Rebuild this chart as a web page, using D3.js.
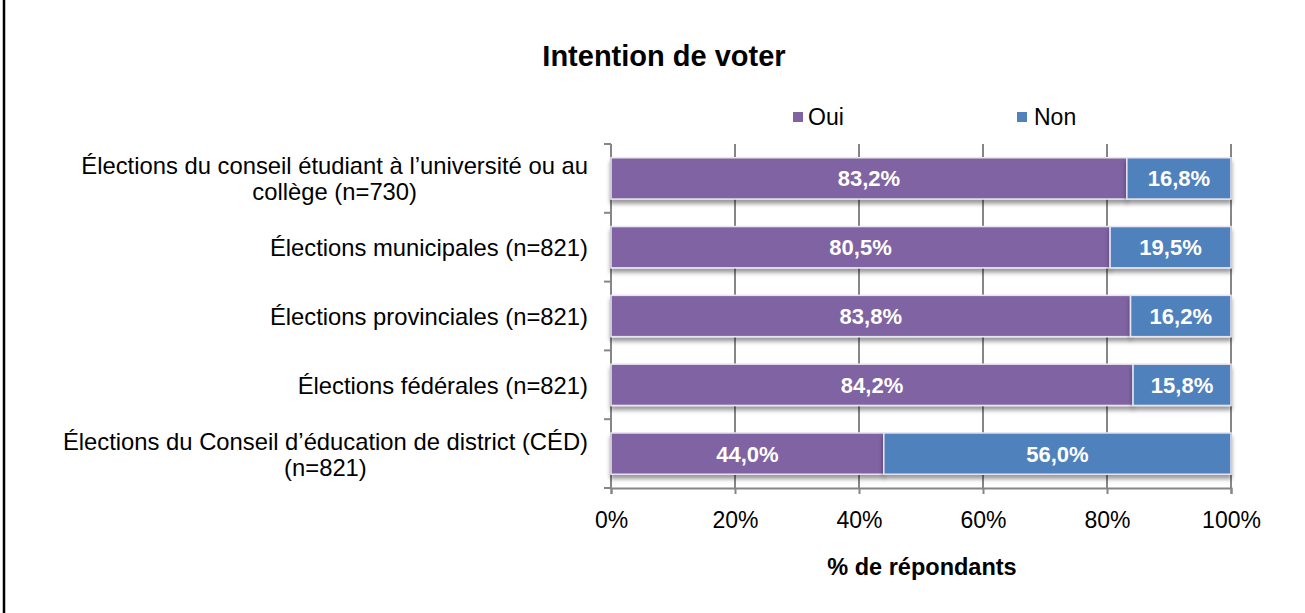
<!DOCTYPE html>
<html>
<head>
<meta charset="utf-8">
<script src="https://cdn.jsdelivr.net/npm/d3@7"></script>
<style>
  body { margin: 0; background: #fff; }
  svg { display: block; font-family: "Liberation Sans", Arial, sans-serif; }
</style>
</head>
<body>
<div id="chart"></div>
<script>
// data
var categories = [
    ["Élections du conseil étudiant à l’université ou au", "collège (n=730)"],
    ["Élections municipales (n=821)"],
    ["Élections provinciales (n=821)"],
    ["Élections fédérales (n=821)"],
    ["Élections du Conseil d’éducation de district (CÉD)", "(n=821)"]
];
var oui = [83.2, 80.5, 83.8, 84.2, 44.0];
var non = [16.8, 19.5, 16.2, 15.8, 56.0];
var seriesNames = ["Oui", "Non"];
var tickValues = [0, 20, 40, 60, 80, 100];

var colors = ["#8064A2", "#4F81BD"];
var W = 1305, H = 613;
var plotLeft = 611, plotRight = 1231, plotTop = 144, plotBottom = 488;

var svg = d3.select("#chart").append("svg")
    .attr("width", W)
    .attr("height", H);

// shadow under the bars
var defs = svg.append("defs");
var f = defs.append("filter").attr("id", "shadow")
    .attr("x", "-5%").attr("y", "-20%").attr("width", "110%").attr("height", "160%");
f.append("feDropShadow")
    .attr("dx", 0).attr("dy", 4)
    .attr("stdDeviation", 2)
    .attr("flood-color", "#000")
    .attr("flood-opacity", 0.4);

// left border of the frame
svg.append("line")
    .attr("x1", 4).attr("x2", 4)
    .attr("y1", 0).attr("y2", H)
    .attr("stroke", "#000")
    .attr("stroke-width", 2.5);

var x = d3.scaleLinear().domain([0, 100]).range([plotLeft, plotRight]);
var idx = d3.range(categories.length);
var y = d3.scaleBand().domain(idx).range([plotTop, plotBottom])
    .paddingInner(0.4).paddingOuter(0.2);

// title
svg.append("text")
    .attr("x", 664).attr("y", 66)
    .attr("text-anchor", "middle")
    .style("font-size", "29px")
    .style("font-weight", "bold")
    .text("Intention de voter");

// gridlines
svg.append("g")
    .selectAll("line")
    .data(tickValues.slice(1))
    .enter().append("line")
    .attr("x1", d => x(d)).attr("x2", d => x(d))
    .attr("y1", plotTop).attr("y2", plotBottom)
    .attr("stroke", "#868686")
    .attr("stroke-width", 2);

// x axis
var xAxis = svg.append("g")
    .attr("transform", "translate(0," + plotBottom + ")")
    .call(d3.axisBottom(x).tickValues(tickValues).tickSize(6).tickPadding(18)
        .tickFormat(d => d + "%"));
xAxis.select(".domain").attr("stroke", "#868686").attr("stroke-width", 2);
xAxis.selectAll(".tick line").attr("stroke", "#868686").attr("stroke-width", 2);
xAxis.selectAll(".tick text")
    .attr("fill", "#000")
    .style("font-size", "23px")
    .style("font-family", "Liberation Sans, Arial, sans-serif");

// y axis line with category boundary ticks
var bounds = idx.map(i => y(i) - y.step() * 0.2).concat([plotBottom]);
svg.append("line")
    .attr("x1", plotLeft).attr("x2", plotLeft)
    .attr("y1", plotTop).attr("y2", plotBottom)
    .attr("stroke", "#868686").attr("stroke-width", 2);
svg.append("g").selectAll("line")
    .data(bounds)
    .enter().append("line")
    .attr("x1", plotLeft - 7).attr("x2", plotLeft)
    .attr("y1", d => d).attr("y2", d => d)
    .attr("stroke", "#868686").attr("stroke-width", 2);

// bars
var rows = idx.map(i => [
    { s: 0, x0: 0, x1: oui[i], v: oui[i], i: i },
    { s: 1, x0: oui[i], x1: oui[i] + non[i], v: non[i], i: i }
]);
var segs = rows.flat();

svg.append("g")
    .selectAll("rect")
    .data(segs)
    .enter().append("rect")
    .attr("x", d => x(d.x0))
    .attr("y", d => y(d.i))
    .attr("width", d => x(d.x1) - x(d.x0))
    .attr("height", y.bandwidth())
    .attr("fill", d => colors[d.s])
    .attr("stroke", "#e8e4f0")
    .attr("stroke-width", 1.5)
    .attr("filter", "url(#shadow)");

svg.append("g")
    .selectAll("text")
    .data(segs)
    .enter().append("text")
    .attr("x", d => x((d.x0 + d.x1) / 2))
    .attr("y", d => y(d.i) + y.bandwidth() / 2 + 8)
    .attr("text-anchor", "middle")
    .attr("fill", "#fff")
    .style("font-size", "22px")
    .style("font-weight", "bold")
    .text(d => d.v.toFixed(1).replace(".", ",") + "%");

// category labels, lines centred on each other, block right aligned
var labelRight = 588;
idx.forEach(function(i) {
    var lines = categories[i];
    var g = svg.append("g");
    var texts = lines.map(function(l, k) {
        return g.append("text")
            .attr("y", y(i) + y.bandwidth() / 2 + 9 + (k - (lines.length - 1) / 2) * 26)
            .attr("text-anchor", "middle")
            .style("font-size", "23.8px")
            .text(l);
    });
    var maxW = d3.max(texts, t => t.node().getComputedTextLength());
    texts.forEach(t => t.attr("x", labelRight - maxW / 2));
});

// legend
var legX = [793, 1017];
var lg = svg.append("g").selectAll("g")
    .data(seriesNames)
    .enter().append("g")
    .attr("transform", (d, i) => "translate(" + legX[i] + ",112)");
lg.append("rect")
    .attr("width", 10).attr("height", 10)
    .attr("fill", (d, i) => colors[i]);
lg.append("text")
    .attr("x", (d, i) => i === 0 ? 15 : 17)
    .attr("y", 13)
    .style("font-size", "23px")
    .text(d => d);

// axis title
svg.append("text")
    .attr("x", 922).attr("y", 575)
    .attr("text-anchor", "middle")
    .style("font-size", "23.5px")
    .style("font-weight", "bold")
    .text("% de répondants");
</script>
</body>
</html>
